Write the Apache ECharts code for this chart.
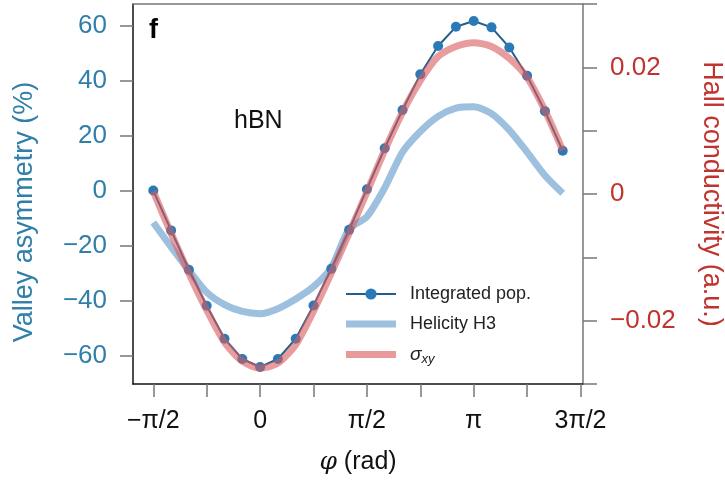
<!DOCTYPE html>
<html>
<head>
<meta charset="utf-8">
<script src="https://cdn.jsdelivr.net/npm/echarts@6/dist/echarts.min.js"></script>
<style>
html,body{margin:0;padding:0;background:#fff;}
#chart{width:725px;height:482px;}
</style>
</head>
<body>
<div id="chart"></div>
<script>
// phase in units of pi/12
const phi = [-6,-5,-4,-3,-2,-1,0,1,2,3,4,5,6,7,8,9,10,11,12,13,14,15,16,17];
// Integrated pop. (valley asymmetry, %)
const integratedPop = [0,-14.5,-28.8,-41.9,-53.9,-61.3,-64.2,-61.3,-53.9,-41.8,-28.5,-14.3,0.5,15.4,29.3,42.3,52.6,59.6,61.7,59.4,52.1,41.8,28.9,14.5];
// Helicity H3 (valley asymmetry, %)
const helicityH3 = [-11.6,-20.5,-29,-37,-41.5,-44,-44.8,-43,-39.5,-35,-28,-14,-9.5,1,14,21.5,27,30,30.5,28,22,14,5.5,-1];
// sigma_xy (Hall conductivity, a.u.)
const sigmaXY = [0.0004,-0.0062,-0.0125,-0.0183,-0.0234,-0.0264,-0.0275,-0.0267,-0.0238,-0.0185,-0.0125,-0.0062,0.0003,0.0069,0.0129,0.0179,0.0217,0.0233,0.0239,0.0233,0.0214,0.0184,0.0132,0.0069];

const xTickValues = [-6,-3,0,3,6,9,12,15,18];
const xLabelValues = [-6,0,6,12,18];
const xLabelText = ['\u2212\u03c0/2','0','\u03c0/2','\u03c0','3\u03c0/2'];
const yLeftTicks = [-60,-40,-20,0,20,40,60];
const yRightTicks = [-0.03,-0.02,-0.01,0,0.01,0.02,0.03];
const yRightLabels = [-0.02,0,0.02];

const FONT = 'Liberation Sans, Arial, Helvetica, sans-serif';
const BLUE_TXT = '#2f7fa8';
const RED_TXT = '#c0332f';
const HEL_COLOR = '#9cc0dd';
const SIG_COLOR = '#d95a5c';
const BAND_ICON = 'path://M0,0H50V0.01H0Z M0,3.5H50V10.5H0Z M0,13.99H50V14H0Z';

function pairs(arr){ return phi.map((p,i)=>[p, arr[i]]); }

const chart = echarts.init(document.getElementById('chart'), null, {renderer:'canvas'});
chart.setOption({
  animation:false,
  backgroundColor:'#fff',
  textStyle:{fontFamily:FONT},
  title:[
    {text:'f', left:144, top:12, textStyle:{fontFamily:FONT,fontWeight:'bold',fontSize:27,color:'#000'}},
    {text:'hBN', left:229, top:104, textStyle:{fontFamily:FONT,fontWeight:'normal',fontSize:25,color:'#111'}}
  ],
  grid:{left:133, right:142, top:4, bottom:98, containLabel:false, outerBoundsMode:'none'},
  legend:{
    orient:'vertical', left:340, top:280, itemWidth:50, itemHeight:14, itemGap:12,
    textStyle:{fontFamily:FONT,fontSize:18,color:'#222',padding:[0,0,0,9],
      rich:{s:{fontFamily:FONT,fontStyle:'italic',fontSize:19,color:'#222'},
            sub:{fontFamily:FONT,fontStyle:'italic',fontSize:13,color:'#222',padding:[9,0,0,0]}}},
    formatter:function(name){ return name==='sigma' ? '{s|\u03c3}{sub|xy}' : name; },
    data:[
      'Integrated pop.',
      {name:'Helicity H3', icon:BAND_ICON, itemStyle:{color:HEL_COLOR}},
      {name:'sigma', icon:BAND_ICON, itemStyle:{color:'#e8999a'}}
    ]
  },
  xAxis:[
    {type:'value', position:'bottom', min:-7.14, max:18.14,
     name:'{i|\u03c6} (rad)', nameLocation:'middle', nameGap:66,
     nameTextStyle:{fontFamily:FONT,fontSize:25,color:'#111',rich:{i:{fontFamily:'DejaVu Serif, serif',fontStyle:'italic',fontSize:25,color:'#111'}}},
     axisLine:{show:true,onZero:false,lineStyle:{color:'#111',width:1.5}},
     axisTick:{show:true,inside:false,length:13,customValues:xTickValues,lineStyle:{color:'#777',width:1.5}},
     axisLabel:{show:true,margin:25,fontFamily:FONT,fontSize:25,color:'#111',customValues:xLabelValues,
       formatter:function(v){ const k=xLabelValues.indexOf(Math.round(v)); return k>=0?xLabelText[k]:''; }},
     splitLine:{show:false}},
    {type:'value', position:'top', min:-7.14, max:18.14,
     axisLine:{show:true,onZero:false,lineStyle:{color:'#777',width:1.5}},
     axisTick:{show:false}, axisLabel:{show:false}, splitLine:{show:false}}
  ],
  yAxis:[
    {type:'value', position:'left', min:-70.4, max:67.9,
     name:'Valley asymmetry (%)', nameLocation:'middle', nameGap:95, nameRotate:90,
     nameTextStyle:{fontFamily:FONT,fontSize:27,color:BLUE_TXT,padding:[0,36,0,0]},
     axisLine:{show:true,onZero:false,lineStyle:{color:'#111',width:1.5}},
     axisTick:{show:true,inside:false,length:13,customValues:yLeftTicks,lineStyle:{color:'#777',width:1.5}},
     axisLabel:{show:true,margin:26,fontFamily:FONT,fontSize:26,color:BLUE_TXT,customValues:yLeftTicks,
       formatter:function(v){ return (v<0?'\u2212':'')+Math.abs(Math.round(v)); }},
     splitLine:{show:false}},
    {type:'value', position:'right', min:-0.03, max:0.03,
     name:'Hall conductivity (a.u.)', nameLocation:'middle', nameGap:115, nameRotate:-90,
     nameTextStyle:{fontFamily:FONT,fontSize:27,color:RED_TXT},
     axisLine:{show:true,onZero:false,lineStyle:{color:'#777',width:1.5}},
     axisTick:{show:true,inside:false,length:14,customValues:yRightTicks,lineStyle:{color:'#777',width:1.5}},
     axisLabel:{show:true,margin:27,fontFamily:FONT,fontSize:26,color:RED_TXT,customValues:yRightLabels,
       formatter:function(v){ if(Math.abs(v)<1e-9) return '0'; return (v<0?'\u2212':'')+Math.abs(v).toFixed(2); }},
     splitLine:{show:false}}
  ],
  series:[
    {name:'Helicity H3', type:'line', xAxisIndex:0, yAxisIndex:0, data:pairs(helicityH3),
     showSymbol:false, symbol:'none', smooth:0.25, z:1,
     lineStyle:{color:HEL_COLOR,width:7,cap:'butt'}, itemStyle:{color:HEL_COLOR}},
    {name:'Integrated pop.', type:'line', xAxisIndex:0, yAxisIndex:0, data:pairs(integratedPop),
     symbol:'circle', symbolSize:10, showSymbol:true, z:2,
     lineStyle:{color:'#245f8c',width:2}, itemStyle:{color:'#2a7ab8',borderWidth:0}},
    {name:'sigma', type:'line', xAxisIndex:0, yAxisIndex:1, data:pairs(sigmaXY),
     showSymbol:false, symbol:'none', smooth:0.25, z:3,
     lineStyle:{color:SIG_COLOR,width:7,opacity:0.6,cap:'butt'}, itemStyle:{color:'#e8999a'}}
  ]
});
</script>
</body>
</html>
